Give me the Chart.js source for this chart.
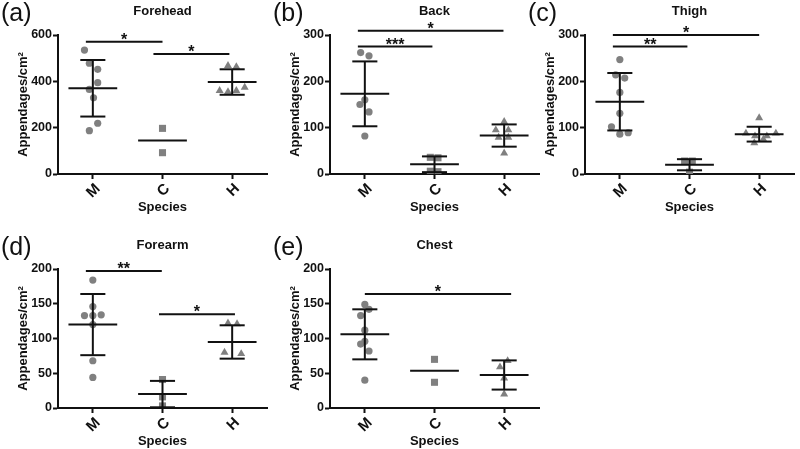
<!DOCTYPE html>
<html>
<head>
<meta charset="utf-8">
<script src="https://cdn.jsdelivr.net/npm/chart.js@4"></script>
<style>
  body { margin: 0; background: #fff; }
  #wrap { position: relative; width: 800px; height: 449px; overflow: hidden; }
  canvas { position: absolute; }
</style>
</head>
<body>
<div id="wrap">
  <canvas id="chartA" width="272" height="215" style="left:0;top:0"></canvas>
  <canvas id="chartB" width="272" height="215" style="left:272px;top:0"></canvas>
  <canvas id="chartC" width="272" height="215" style="left:527px;top:0"></canvas>
  <canvas id="chartD" width="272" height="224" style="left:0;top:225px"></canvas>
  <canvas id="chartE" width="272" height="224" style="left:272px;top:225px"></canvas>
</div>
<script>
const species = ['M', 'C', 'H'];

// (a) Forehead
const foreheadM = [535, 478, 452, 394, 365, 329, 219, 187];
const foreheadC = [197, 92];
const foreheadH = [468, 463, 360, 355, 360, 374];
const foreheadMean = [370, 145, 397];
const foreheadSD = [122, null, 55];
const foreheadJitter = [[-0.12, -0.05, 0.07, 0.07, -0.05, 0.01, 0.07, -0.05], [0, 0], [-0.06, 0.06, -0.18, -0.06, 0.06, 0.18]];
const foreheadSig = [[-0.1, 1.0, 571, '*'], [0.87, 1.96, 518, '*']];

// (b) Back
const backM = [262, 255, 160, 150, 134, 82];
const backC = [36, 35, 6, 5];
const backH = [113, 95, 95, 79, 79, 45];
const backMean = [173, 21, 83];
const backSD = [70, 17, 24];
const backJitter = [[-0.06, 0.06, 0, -0.07, 0.06, 0], [-0.06, 0.05, -0.06, 0.05], [0, -0.12, 0.06, -0.08, 0.06, 0]];
const backSig = [[-0.1, 1.99, 309, '*'], [-0.1, 0.97, 275, '***']];

// (c) Thigh
const thighM = [247, 214, 207, 176, 131, 102, 86, 89];
const thighC = [28, 28, 4];
const thighH = [121, 88, 82, 82, 88, 67, 75];
const thighMean = [156, 20, 86];
const thighSD = [62, 12, 16];
const thighJitter = [[0, -0.06, 0.07, 0, 0, -0.12, 0, 0.12], [-0.07, 0.04, 0], [0, -0.19, -0.06, 0.11, 0.24, -0.07, 0.06]];
const thighSig = [[-0.1, 2.0, 300, '*'], [-0.1, 0.97, 275, '**']];

// (d) Forearm
const forearmM = [184, 146, 133, 133, 134, 120, 68, 44];
const forearmC = [41, 16, 3];
const forearmH = [122, 121, 80, 78];
const forearmMean = [120, 20, 95];
const forearmSD = [44, 19, 24];
const forearmJitter = [[0, 0, -0.12, 0, 0.12, 0, 0, 0], [0, 0, 0], [-0.06, 0.07, -0.11, 0.13]];
const forearmSig = [[-0.1, 0.99, 197, '**'], [0.95, 2.04, 135, '*']];

// (e) Chest
const chestM = [149, 142, 133, 112, 96, 92, 82, 40];
const chestC = [70, 37];
const chestH = [68, 59, 43, 20];
const chestMean = [106, 53.5, 47.5];
const chestSD = [36, null, 21];
const chestJitter = [[0, 0.06, -0.06, 0, 0, -0.06, 0.06, 0], [0, 0], [0.05, -0.06, 0, 0]];
const chestSig = [[0, 2.1, 164, '*']];

const FONT = 'Arial, "Liberation Sans", sans-serif';
const INK = '#111';
Chart.defaults.font.family = FONT;

const overlay = {
  id: 'overlay',
  afterDatasetsDraw(chart, args, opts) {
    const { ctx, chartArea: a, scales: { x, y } } = chart;
    const seg = (x1, y1, x2, y2) => { ctx.beginPath(); ctx.moveTo(x1, y1); ctx.lineTo(x2, y2); ctx.stroke(); };
    ctx.save();
    ctx.strokeStyle = INK;
    ctx.lineWidth = 2;
    opts.mean.forEach((m, i) => {
      const my = y.getPixelForValue(m);
      seg(x.getPixelForValue(i - 0.35), my, x.getPixelForValue(i + 0.35), my);
      const sd = opts.sd[i];
      if (sd == null) return;
      const cx = x.getPixelForValue(i);
      const hi = y.getPixelForValue(m + sd), lo = y.getPixelForValue(Math.max(m - sd, 0));
      seg(cx, hi, cx, lo);
      seg(x.getPixelForValue(i - 0.18), hi, x.getPixelForValue(i + 0.18), hi);
      seg(x.getPixelForValue(i - 0.18), lo, x.getPixelForValue(i + 0.18), lo);
    });
    ctx.fillStyle = INK;
    ctx.textAlign = 'center';
    ctx.textBaseline = 'alphabetic';
    ctx.font = 'bold 16px ' + FONT;
    opts.sig.forEach(([from, to, val, label]) => {
      const ly = y.getPixelForValue(val);
      const x1 = x.getPixelForValue(from), x2 = x.getPixelForValue(to);
      seg(x1, ly, x2, ly);
      ctx.fillText(label, (x1 + x2) / 2, ly + 3);
    });
    ctx.textBaseline = 'middle';
    ctx.font = 'bold 13px ' + FONT;
    ctx.fillText(opts.title, (a.left + a.right) / 2, a.top - 24);
    ctx.textAlign = 'left';
    ctx.font = '25px ' + FONT;
    ctx.fillText(opts.tag, a.left - 57, a.top - 21);
    ctx.restore();
  }
};

function renderPanel(id, tag, title, groups, jitter, mean, sd, sig, yMax, yStep, topPad) {
  const styles = ['circle', 'rect', 'triangle'];
  const radii = [3.6, 5, 4.6];
  new Chart(document.getElementById(id), {
    type: 'scatter',
    data: {
      datasets: groups.map((vals, i) => ({
        label: species[i],
        data: vals.map((v, j) => ({ x: i + jitter[i][j], y: v })),
        pointStyle: styles[i],
        pointRadius: radii[i],
        backgroundColor: '#808080',
        borderWidth: 0
      }))
    },
    options: {
      responsive: false,
      animation: false,
      layout: { padding: { left: 0, right: 4, top: topPad, bottom: 0 } },
      plugins: {
        legend: { display: false },
        tooltip: { enabled: false },
        overlay: { tag, title, mean, sd, sig }
      },
      scales: {
        x: {
          type: 'linear', min: -0.5, max: 2.5,
          afterBuildTicks: s => { s.ticks = species.map((_, i) => ({ value: i })); },
          afterFit: s => { s.height = 41; },
          ticks: {
            callback: v => species[v],
            minRotation: 45, maxRotation: 45, labelOffset: 5,
            color: INK, font: { weight: 'bold', size: 15 }, padding: 1
          },
          grid: { drawOnChartArea: false, drawTicks: true, tickLength: 5, tickColor: INK, tickWidth: 2 },
          border: { color: INK, width: 2 },
          title: { display: true, text: 'Species', color: INK, font: { weight: 'bold', size: 13 }, padding: { top: 7, bottom: 0 } }
        },
        y: {
          min: 0, max: yMax,
          afterFit: s => { s.width = 58; },
          ticks: { stepSize: yStep, color: INK, font: { weight: 'bold', size: 12.5 }, padding: 1 },
          grid: { drawOnChartArea: false, drawTicks: true, tickLength: 5, tickColor: INK, tickWidth: 2 },
          border: { color: INK, width: 2 },
          title: { display: true, text: 'Appendages/cm²', color: INK, font: { weight: 'bold', size: 13 }, padding: { top: 16, bottom: 0 } }
        }
      }
    },
    plugins: [overlay]
  });
}

renderPanel('chartA', '(a)', 'Forehead', [foreheadM, foreheadC, foreheadH], foreheadJitter, foreheadMean, foreheadSD, foreheadSig, 600, 200, 35);
renderPanel('chartB', '(b)', 'Back', [backM, backC, backH], backJitter, backMean, backSD, backSig, 300, 100, 35);
renderPanel('chartC', '(c)', 'Thigh', [thighM, thighC, thighH], thighJitter, thighMean, thighSD, thighSig, 300, 100, 35);
renderPanel('chartD', '(d)', 'Forearm', [forearmM, forearmC, forearmH], forearmJitter, forearmMean, forearmSD, forearmSig, 200, 50, 44);
renderPanel('chartE', '(e)', 'Chest', [chestM, chestC, chestH], chestJitter, chestMean, chestSD, chestSig, 200, 50, 44);
</script>
</body>
</html>
